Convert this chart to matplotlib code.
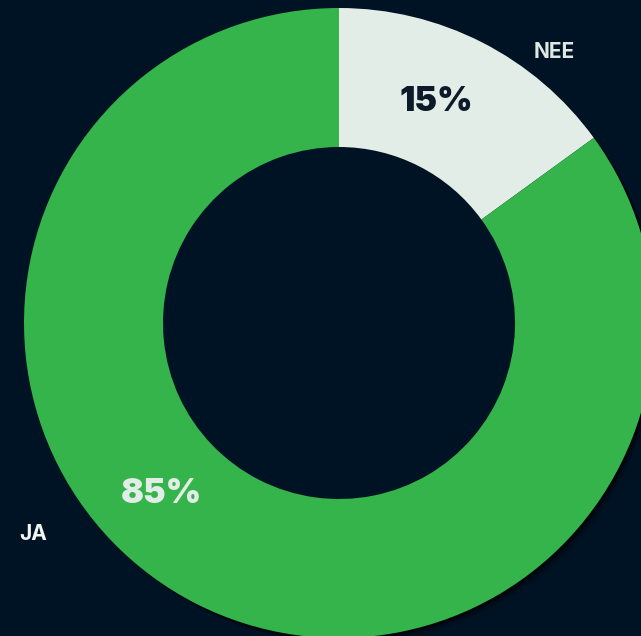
import matplotlib
matplotlib.use("Agg")
import matplotlib.pyplot as plt
from matplotlib.patches import Circle

# data
labels = ["NEE", "JA"]
values = [15, 85]
pct_labels = ["15%", "85%"]

colors = ["#e3ede7", "#34b44b"]
bg = "#001325"

W, H = 641, 636
fig = plt.figure(figsize=(W / 100, H / 100), dpi=100, facecolor=bg)
ax = fig.add_axes([0, 0, 1, 1])
ax.set_facecolor(bg)

cx, cy = 339, H - 323     # centre in pixel units
r_out, r_in = 315, 176

# soft shadow, a few offset layers (outer edge only)
for k, a in [(7, 0.1), (5, 0.18), (3, 0.3), (1.5, 0.4)]:
    ax.pie(values, colors=["#000000"] * 2, startangle=90, counterclock=False,
           center=(cx + k, cy - k), radius=r_out, frame=True,
           wedgeprops=dict(linewidth=0, alpha=a))
ax.add_patch(Circle((cx, cy), r_in + 1, facecolor=bg, edgecolor="none", zorder=1))

wedges, _ = ax.pie(values, colors=colors, startangle=90, counterclock=False,
                   center=(cx, cy), radius=r_out, frame=True,
                   wedgeprops=dict(width=r_out - r_in, linewidth=0, zorder=2))
ax.set_xlim(0, W); ax.set_ylim(0, H)
ax.set_aspect("equal")
ax.axis("off")

font = ["Inter", "DejaVu Sans"]
# category labels outside
lab_pos = [(554, 52), (33, 534)]
lab_col = ["#dfe7e3", "#f2f5f4"]
for (x, y), t, c in zip(lab_pos, labels, lab_col):
    ax.text(x, H - y, t, ha="center", va="center", color=c, fontsize=15,
            fontweight="bold", family=font, zorder=5)

# percentage labels in the ring
pct_pos = [(436, 102), (161, 494)]
pct_col = ["#0c1a2a", "#e3ede7"]
for (x, y), t, c in zip(pct_pos, pct_labels, pct_col):
    ax.text(x, H - y, t, ha="center", va="center", color=c, fontsize=24.5,
            fontweight="black", family=font, zorder=5)

fig.savefig("out.png", dpi=100, facecolor=bg)
